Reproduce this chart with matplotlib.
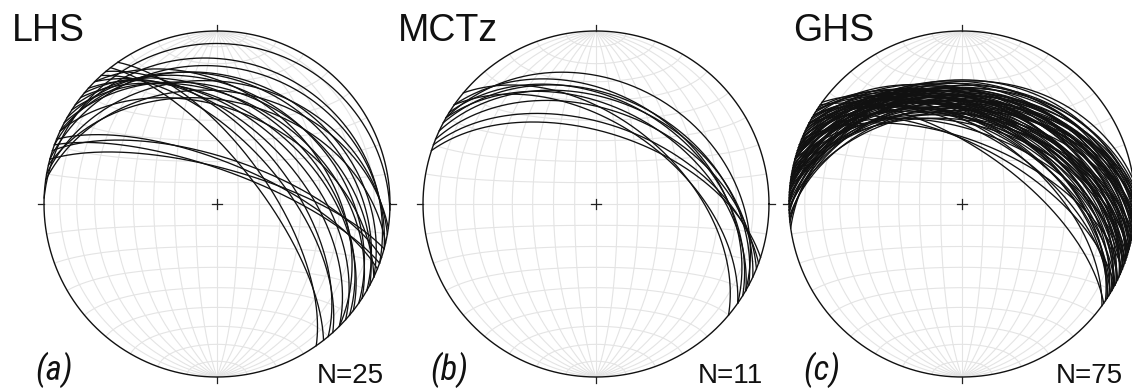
import numpy as np
import matplotlib.pyplot as plt

# foliation planes, right-hand-rule strike / dip (degrees)
LHS_STRIKE = [272, 285, 290, 295, 300, 305, 298, 310, 303, 312, 308, 315, 320,
              318, 325, 322, 288, 292, 285, 290, 280, 283, 295, 278, 315]
LHS_DIP = [8, 22, 18, 28, 30, 35, 36, 42, 40, 48, 45, 52, 56,
           60, 65, 70, 68, 70, 73, 74, 30, 40, 45, 35, 38]

MCT_STRIKE = [300, 305, 298, 302, 295, 300, 292, 305, 290, 288, 310]
MCT_DIP = [30, 38, 38, 40, 40, 44, 45, 52, 52, 56, 50]

GHS_STRIKE = [262, 264, 265, 266, 267, 268, 269, 270, 270, 271,
              272, 273, 274, 275, 275, 276, 277, 278, 278, 279,
              280, 281, 282, 283, 284, 285, 285, 286, 287, 288,
              289, 290, 290, 291, 292, 293, 294, 295, 292, 296,
              297, 298, 299, 300, 300, 301, 302, 303, 304, 305,
              283, 287, 276, 280, 292, 296, 271, 274, 268, 289,
              298, 285, 279, 293, 301, 306, 282, 294, 277, 290,
              297, 288, 286, 298, 303]
GHS_DIP = [30, 34, 38, 42, 32, 36, 45, 29, 40, 33,
           37, 44, 31, 39, 47, 35, 42, 30, 38, 50,
           34, 41, 36, 45, 32, 39, 52, 43, 37, 48,
           35, 41, 55, 46, 38, 50, 43, 36, 60, 47,
           40, 53, 45, 49, 39, 56, 44, 51, 47, 64,
           40, 44, 40, 47, 42, 51, 37, 43, 40, 50,
           48, 35, 38, 46, 52, 55, 49, 40, 34, 45,
           44, 39, 47, 62, 48]

TITLES = ["LHS", "MCTz", "GHS"]
PANELS = ["(a)", "(b)", "(c)"]

nets = [(LHS_STRIKE, LHS_DIP), (MCT_STRIKE, MCT_DIP), (GHS_STRIKE, GHS_DIP)]
centers = [217, 596, 962]
cy = 204
R = 173


def schmidt(e, n, d):
    """lower-hemisphere equal-area projection of unit vectors (E, N, Down)"""
    f = 1.0 / np.sqrt(1.0 + d)
    return e * f, n * f


def great_circle(strike, dip):
    t = np.linspace(0, np.pi, 241)
    s = np.radians(strike)
    dd = s + np.pi / 2
    d = np.radians(dip)
    e = np.cos(t) * np.sin(s) + np.sin(t) * np.cos(d) * np.sin(dd)
    n = np.cos(t) * np.cos(s) + np.sin(t) * np.cos(d) * np.cos(dd)
    z = np.sin(t) * np.sin(d)
    return schmidt(e, n, z)


def draw_net(ax, cx, strikes, dips):
    to_px = lambda x, y: (cx + R * x, cy - R * y)
    grid = dict(color="#e4e4e4", lw=0.8, zorder=1)
    th = np.linspace(0, np.pi, 181)
    # meridians through the N and S poles
    for a in range(10, 180, 10):
        da = np.radians(a)
        e = np.sin(th) * np.cos(da)
        n = np.cos(th)
        z = np.sin(th) * np.sin(da)
        ax.plot(*to_px(*schmidt(e, n, z)), **grid)
    # small circles about the N-S axis
    for a in range(10, 180, 10):
        da = np.radians(a)
        e = np.sin(da) * np.cos(th)
        n = np.full_like(th, np.cos(da))
        z = np.sin(da) * np.sin(th)
        ax.plot(*to_px(*schmidt(e, n, z)), **grid)

    # primitive circle
    phi = np.linspace(0, 2 * np.pi, 721)
    ax.plot(*to_px(np.cos(phi), np.sin(phi)), color="#111111", lw=1.0, zorder=3)
    # tick marks at N, E, S, W and centre cross
    k = "#222222"
    ax.plot([cx, cx], [cy - R - 6, cy - R], color=k, lw=0.9, zorder=3)
    ax.plot([cx, cx], [cy + R, cy + R + 6], color=k, lw=0.9, zorder=3)
    ax.plot([cx - R - 6, cx - R], [cy, cy], color=k, lw=0.9, zorder=3)
    ax.plot([cx + R, cx + R + 6], [cy, cy], color=k, lw=0.9, zorder=3)
    ax.plot([cx - 5, cx + 5], [cy, cy], color=k, lw=0.9, zorder=3)
    ax.plot([cx, cx], [cy - 5, cy + 5], color=k, lw=0.9, zorder=3)

    for s, d in zip(strikes, dips):
        ax.plot(*to_px(*great_circle(s, d)), color="#111111", lw=0.95, zorder=4)


fig = plt.figure(figsize=(11.32, 3.89), dpi=100)
ax = fig.add_axes([0, 0, 1, 1])
ax.set_xlim(0, 1132)
ax.set_ylim(389, 0)
ax.set_aspect("equal")
ax.axis("off")

for i, (cx, (strikes, dips)) in enumerate(zip(centers, nets)):
    draw_net(ax, cx, strikes, dips)

title_x = [12, 398, 793]
panel_x = [35, 430, 803]
count_x = [384, 763, 1123]
for i, cx in enumerate(centers):
    ax.text(title_x[i], 41, TITLES[i], fontsize=27, family="Liberation Sans",
            ha="left", va="baseline", color="#111111")
    ax.text(panel_x[i], 380, PANELS[i], fontsize=25, style="italic",
            family=["Roboto Condensed", "Liberation Sans Narrow", "Liberation Sans"],
            stretch="condensed", ha="left", va="baseline", color="#111111")
    ax.text(count_x[i], 383, f"N={len(nets[i][0])}", fontsize=20,
            family="Liberation Sans", ha="right", va="baseline", color="#111111")

fig.savefig("out.png", dpi=100)
